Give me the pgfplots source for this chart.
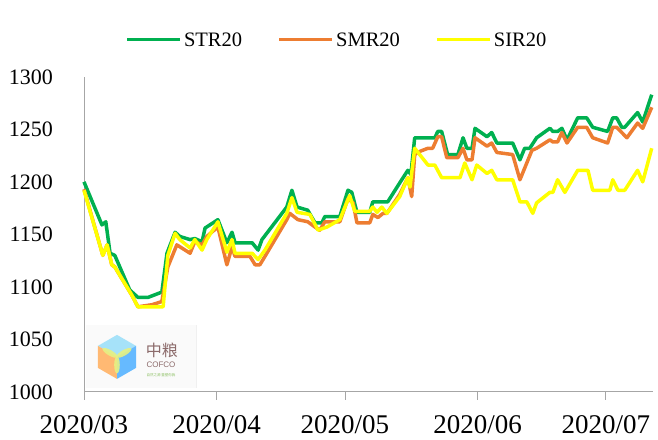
\documentclass[border=0pt]{standalone}
\usepackage{pgfplots}
\pgfplotsset{compat=1.18}
\usepackage{fontspec}
\setmainfont{Liberation Serif}
\newfontfamily\cjk{Noto Sans CJK SC}
\newfontfamily\logosans{Liberation Sans}
\definecolor{strgreen}{HTML}{00B050}
\definecolor{smrorange}{HTML}{ED7D31}
\definecolor{siryellow}{HTML}{FFFF00}
\definecolor{axgray}{HTML}{A6A6A6}
\definecolor{logobrown}{HTML}{8C6B6B}
\definecolor{logogreen}{HTML}{8CC063}
\begin{document}
\begin{tikzpicture}
\begin{axis}[
  scale only axis, width=569pt, height=315pt,
  xmin=0, xmax=133, ymin=1000, ymax=1300,
  clip=false,
  axis x line=bottom, axis y line=left,
  axis line style={-, draw=axgray, line width=0.9pt},
  xtick={0,31,61,92,122},
  xticklabels={2020/03,2020/04,2020/05,2020/06,2020/07},
  ytick={1000,1050,1100,1150,1200,1250,1300},
  tick align=outside,
  major tick length=8pt,
  xtick style={draw=axgray, line width=0.9pt},
  ytick style={draw=none},
  /pgf/number format/assume math mode=true,
  /pgf/number format/1000 sep={},
  xticklabel style={font=\fontsize{27}{27}\selectfont, inner sep=0pt, yshift=-15pt},
  yticklabel style={font=\fontsize{22}{22}\selectfont, inner sep=0pt, xshift=-23pt},
  legend style={at={(rel axis cs:0.445,1.117)}, anchor=center, draw=none, fill=none,
    font=\fontsize{20.5}{20.5}\selectfont,
    /tikz/every even column/.append style={column sep=33pt},
    nodes={inner sep=2.5pt}},
  legend columns=3,
  legend image code/.code={\draw[#1, line width=3pt] (0pt,0pt) -- (53pt,0pt);},
  every axis plot/.append style={line width=3.5pt, line join=round},
]
% invisible frame fixing the page size
\path (rel axis cs:-0.1476,-0.150) rectangle (rel axis cs:1.0088,1.244);
% watermark background
\fill[gray!4] (rel axis cs:0.0035,0.0127) rectangle (rel axis cs:0.197,0.213);
\draw[gray!12, line width=0.8pt] (rel axis cs:0.197,0.0127) -- (rel axis cs:0.197,0.213);
\coordinate (lc) at (rel axis cs:0.058,0.111);
\addplot[strgreen] coordinates {
(0,1200)(4.2,1159)(5.1,1162)(6.1,1132)(7.2,1130)(10.7,1097)(12.6,1090)(15.0,1090)(18.2,1095)(19.4,1132)(21.3,1152)(22.4,1148)(24.8,1145)(25.9,1146)(27.6,1143)(28.3,1156)(31.3,1164)(33.4,1142)(34.6,1152)(35.3,1142)(39.3,1142)(40.7,1135)(41.6,1145)(47.4,1176)(48.6,1192)(49.8,1176)(52.3,1173)(54.0,1161)(55.6,1161)(56.3,1167)(59.8,1167)(61.7,1192)(62.6,1190)(63.8,1171)(66.8,1171)(67.5,1181)(71.0,1181)(73.8,1199)(75.7,1211)(76.4,1207)(77.3,1242)(82.0,1242)(82.7,1248)(83.6,1248)(85.0,1226)(87.4,1226)(88.6,1242)(89.5,1232)(90.7,1232)(91.4,1251)(94.2,1243)(95.3,1247)(96.5,1237)(100.2,1237)(101.9,1221)(103.0,1232)(104.2,1232)(105.8,1242)(108.9,1251)(109.6,1248)(110.7,1248)(111.7,1251)(112.9,1240)(115.4,1261)(117.5,1261)(118.9,1252)(122.4,1248)(123.6,1261)(124.5,1261)(125.7,1252)(126.4,1252)(129.4,1266)(130.6,1257)(132.7,1283)
};
\addlegendentry{STR20}
\addplot[smrorange] coordinates {
(0,1193)(4.4,1130)(5.4,1140)(6.5,1121)(7.2,1119)(11.2,1092)(12.6,1081)(15.9,1083)(18.2,1086)(19.6,1119)(21.7,1140)(24.8,1132)(25.9,1143)(27.6,1140)(28.7,1148)(31.3,1157)(33.4,1121)(34.6,1138)(35.3,1129)(38.8,1129)(40.0,1121)(41.1,1121)(42.3,1129)(47.4,1164)(48.1,1170)(50.0,1164)(52.3,1162)(54.0,1157)(55.1,1154)(56.3,1162)(59.8,1162)(61.7,1184)(62.9,1180)(63.8,1161)(66.8,1161)(67.5,1169)(68.7,1166)(69.9,1170)(70.8,1170)(73.8,1188)(75.7,1204)(76.6,1186)(77.3,1226)(78.5,1229)(80.4,1232)(81.5,1232)(82.7,1243)(83.6,1243)(84.8,1223)(87.4,1223)(88.6,1232)(89.5,1221)(90.7,1221)(91.4,1242)(94.2,1234)(95.3,1237)(96.5,1228)(100.2,1226)(101.9,1202)(104.7,1230)(105.8,1232)(108.9,1240)(109.6,1238)(110.7,1238)(111.7,1247)(112.9,1237)(115.4,1252)(117.5,1252)(118.9,1242)(122.4,1237)(123.6,1252)(124.5,1252)(126.9,1242)(129.4,1256)(130.6,1251)(132.7,1271)
};
\addlegendentry{SMR20}
\addplot[siryellow] coordinates {
(0,1192)(4.4,1130)(5.4,1140)(6.5,1121)(7.2,1119)(11.2,1092)(12.6,1081)(18.5,1081)(19.6,1130)(21.3,1151)(22.4,1145)(24.8,1137)(25.9,1145)(27.6,1135)(28.7,1145)(31.3,1162)(33.4,1133)(34.6,1145)(35.3,1132)(39.3,1132)(40.7,1126)(42.3,1135)(47.4,1170)(48.6,1185)(49.8,1171)(52.8,1169)(54.7,1154)(56.8,1157)(59.8,1164)(62.1,1187)(63.3,1172)(66.8,1172)(67.5,1176)(68.5,1171)(69.6,1176)(70.8,1170)(73.8,1186)(75.7,1204)(76.2,1195)(77.3,1232)(80.4,1216)(82.0,1216)(83.6,1204)(87.9,1204)(89.0,1218)(90.7,1202)(91.8,1216)(94.2,1208)(95.3,1211)(96.5,1202)(100.2,1202)(101.9,1181)(103.5,1181)(104.9,1170)(105.8,1180)(108.9,1190)(109.6,1190)(110.7,1202)(112.4,1190)(115.4,1211)(117.8,1211)(118.9,1192)(122.9,1192)(123.6,1202)(124.8,1192)(126.4,1192)(129.4,1211)(130.6,1200)(132.7,1232)
};
\addlegendentry{SIR20}
\end{axis}
\begin{scope}[shift={(lc)}]
  \fill[cyan!35!white] (0,0) -- (30:22pt) -- (90:22pt) -- (150:22pt) -- cycle;
  \fill[blue!45!cyan!60!white] (0,0) -- (270:22pt) -- (330:22pt) -- (30:22pt) -- cycle;
  \fill[orange!55!white] (0,0) -- (150:22pt) -- (210:22pt) -- (270:22pt) -- cycle;
  \fill[yellow!80!green!50!white, opacity=0.9, rotate=30] (8pt,0) ellipse (8.5pt and 2.8pt);
  \fill[yellow!80!green!50!white, opacity=0.9, rotate=150] (8pt,0) ellipse (8.5pt and 2.8pt);
  \fill[yellow!80!green!50!white, opacity=0.9, rotate=270] (8pt,0) ellipse (8.5pt and 2.8pt);
  \node[anchor=center, text=logobrown, inner sep=0pt] at (45pt,7pt) {\cjk\fontsize{16}{16}\selectfont 中粮};
  \node[anchor=center, text=logobrown, inner sep=0pt] at (44pt,-8pt) {\logosans\fontsize{8}{8}\selectfont COFCO};
  \node[anchor=center, text=logogreen, inner sep=0pt] at (44pt,-18pt) {\cjk\fontsize{3.5}{3.5}\selectfont 自然之源\ 重塑你我};
\end{scope}
\end{tikzpicture}
\end{document}
